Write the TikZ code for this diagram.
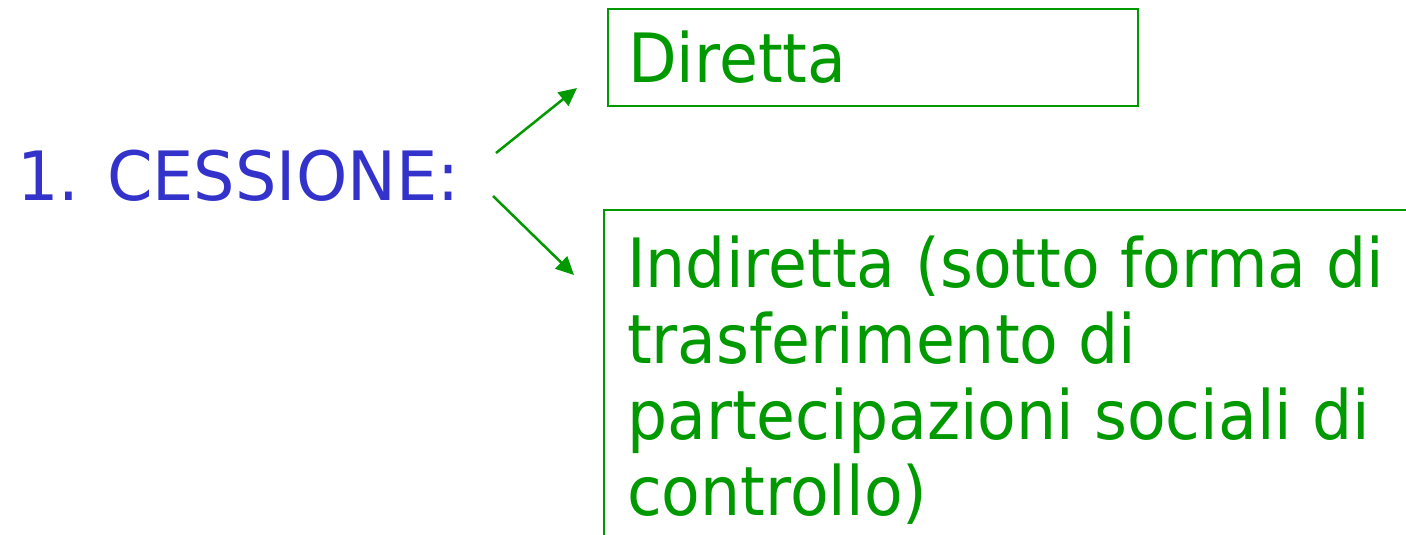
\documentclass[tikz,border=0pt]{standalone}
\usepackage{fontspec}
\setmainfont{DejaVu Sans}[FakeStretch=0.93]
\usetikzlibrary{arrows.meta}
\definecolor{boxgreen}{RGB}{0,153,0}
\definecolor{titleblue}{RGB}{51,51,204}
\begin{document}
\begin{tikzpicture}[x=1pt,y=1pt,
  lbl/.style={inner sep=0pt, anchor=base west, font=\fontsize{68}{76}\selectfont},
  frame/.style={draw=boxgreen, line width=2pt},
  arr/.style={draw=boxgreen, line width=2.5pt, -{Triangle[length=18pt,width=17pt]}}]
\clip (0,0) rectangle (1406,-535);
\fill[white] (0,0) rectangle (1406,-535);
% boxes
\node[frame, anchor=north west, minimum width=530pt, minimum height=97pt, inner sep=0pt] (box1) at (607,-8) {};
\draw[frame] (1420,-210) -- (604,-210) -- (604,-560);
\coordinate (box2) at (604,-210);
% texts
\node[lbl, text=titleblue] (cessione) at (17,-200) {\fontspec{DejaVu Sans}[FakeStretch=0.96]1. CESSIONE:};
\node[lbl, text=boxgreen] (diretta) at (628,-83) {Diretta};
\node[lbl, text=boxgreen] (indiretta) at (627,-287) {\parbox[t]{780pt}{\baselineskip=76pt\raggedright
Indiretta (sotto forma di\\trasferimento di\\partecipazioni sociali di\\controllo)}};
% arrows
\coordinate (a1s) at (496,-153);
\coordinate (a1e) at (577,-88);
\coordinate (a2s) at (493,-196);
\coordinate (a2e) at (574,-275);
\draw[arr] (a1s) -- (a1e);
\draw[arr] (a2s) -- (a2e);
\end{tikzpicture}
\end{document}
